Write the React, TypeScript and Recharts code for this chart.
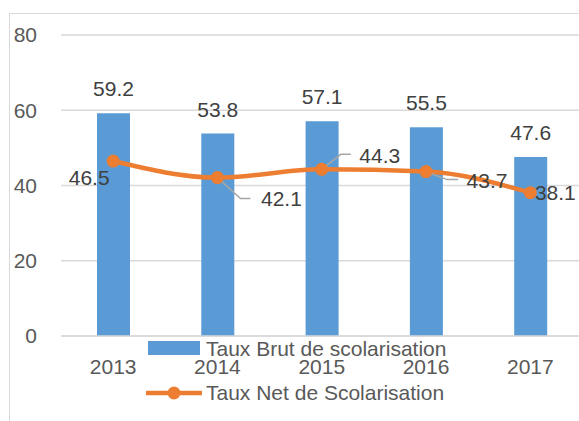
import {
  Bar,
  CartesianGrid,
  ComposedChart,
  LabelList,
  Legend,
  Line,
  XAxis,
  YAxis,
} from 'recharts';

const years = ['2013', '2014', '2015', '2016', '2017'];
const tauxBrut = [59.2, 53.8, 57.1, 55.5, 47.6];
const tauxNet = [46.5, 42.1, 44.3, 43.7, 38.1];
const yTicks = [0, 20, 40, 60, 80];

const BLUE = '#5B9BD5';
const ORANGE = '#ED7D31';
const GRID = '#d9d9d9';
const FONT = "'Liberation Sans', Arial, sans-serif";

const chartData = years.map((year, i) => ({
  year,
  brut: tauxBrut[i],
  net: tauxNet[i],
}));

// where each "net" label sits relative to its point, plus its leader line
const netLabelPlacement = [
  { dx: -24, dy: 16, leader: null },
  { dx: 64, dy: 21, leader: [[23, 21], [33, 21]] },
  { dx: 58, dy: -14, leader: [[19, -15], [29, -15]] },
  { dx: 61, dy: 9, leader: [[21, 8], [32, 8]] },
  { dx: 25, dy: 0, leader: null },
];

const NetLabel = (props: any) => {
  const { x, y, value, index } = props;
  const place = netLabelPlacement[index];
  if (!place || x == null || y == null) return null;
  let leader = null;
  if (place.leader) {
    const [a, b] = place.leader;
    const len = Math.hypot(a[0], a[1]);
    const sx = x + (a[0] / len) * 6;
    const sy = y + (a[1] / len) * 6;
    leader = (
      <polyline
        points={`${sx},${sy} ${x + a[0]},${y + a[1]} ${x + b[0]},${y + b[1]}`}
        fill="none"
        stroke="#a6a6a6"
        strokeWidth={1.5}
      />
    );
  }
  return (
    <g>
      {leader}
      <text
        x={x + place.dx}
        y={y + place.dy}
        textAnchor="middle"
        dominantBaseline="central"
        fill="#404040"
        fontSize={21}
        fontFamily={FONT}
      >
        {value}
      </text>
    </g>
  );
};

const CustomLegend = () => (
  <svg width={340} height={80}>
    <rect x={8} y={11} width={52} height={14} fill={BLUE} />
    <text
      x={66}
      y={18}
      dominantBaseline="central"
      fill="#595959"
      fontSize={21}
      fontFamily={FONT}
    >
      Taux Brut de scolarisation
    </text>
    <line x1={6} x2={62} y1={63} y2={63} stroke={ORANGE} strokeWidth={4.5} />
    <circle cx={34} cy={63} r={6.5} fill={ORANGE} />
    <text
      x={66}
      y={62}
      dominantBaseline="central"
      fill="#595959"
      fontSize={21}
      fontFamily={FONT}
    >
      Taux Net de Scolarisation
    </text>
  </svg>
);

const App = () => {
  return (
    <div
      style={{
        position: 'absolute',
        left: 0,
        top: 0,
        width: 579,
        height: 421,
        overflow: 'hidden',
        background: '#fff',
      }}
    >
      <div
        style={{
          position: 'absolute',
          left: 9,
          top: 13,
          width: 700,
          height: 600,
          border: `1.5px solid ${GRID}`,
        }}
      />
      <div style={{ position: 'absolute', left: 0, top: 0 }}>
        <ComposedChart
          width={600}
          height={421}
          data={chartData}
          margin={{ top: 35, right: 17.5, left: 0, bottom: 55 }}
        >
          <CartesianGrid vertical={false} stroke={GRID} strokeWidth={1.5} />
          <XAxis
            dataKey="year"
            height={30}
            axisLine={{ stroke: GRID, strokeWidth: 1.5 }}
            tickLine={false}
            tickSize={0}
            tickMargin={23}
            tick={{ fill: '#595959', fontSize: 21, fontFamily: FONT }}
          />
          <YAxis
            domain={[0, 80]}
            ticks={yTicks}
            width={61}
            axisLine={false}
            tickLine={false}
            tickSize={0}
            tickMargin={24}
            tick={{ fill: '#595959', fontSize: 21, fontFamily: FONT }}
          />
          <Legend
            layout="vertical"
            align="center"
            verticalAlign="middle"
            content={CustomLegend}
            wrapperStyle={{ left: 140, top: 330, width: 340 }}
          />
          <Bar
            dataKey="brut"
            name="Taux Brut de scolarisation"
            fill={BLUE}
            barSize={33}
            isAnimationActive={false}
          >
            <LabelList
              dataKey="brut"
              position="top"
              offset={17}
              fill="#404040"
              fontSize={21}
              fontFamily={FONT}
            />
          </Bar>
          <Line
            dataKey="net"
            name="Taux Net de Scolarisation"
            type="monotone"
            stroke={ORANGE}
            strokeWidth={4.5}
            dot={{ r: 6.5, fill: ORANGE, stroke: 'none' }}
            activeDot={false}
            isAnimationActive={false}
          >
            <LabelList dataKey="net" content={NetLabel} />
          </Line>
        </ComposedChart>
      </div>
    </div>
  );
};

export default App;
